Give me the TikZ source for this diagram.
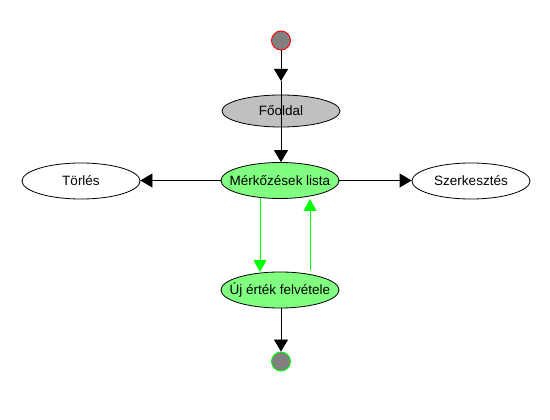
\documentclass[tikz,border=0pt]{standalone}
\usepackage{fontspec}
\setmainfont{Liberation Sans}
\usetikzlibrary{shapes.geometric,arrows.meta}
\definecolor{statefill}{HTML}{C0C0C0}
\definecolor{activefill}{HTML}{80FF80}
\definecolor{flowgreen}{HTML}{00FF00}
\definecolor{dotgray}{HTML}{808080}
\newcommand{\lbl}[1]{\makebox[0pt]{#1}}
\begin{document}
\begin{tikzpicture}[x=1pt,y=-1pt,
  font=\fontsize{13.5}{16}\selectfont,
  stateshape/.style={ellipse,draw=black,line width=0.8pt,minimum width=118pt,minimum height=36pt,inner sep=0pt},
  enddot/.style={circle,fill=dotgray,line width=0.9pt,minimum size=19pt,inner sep=0pt},
  arr/.style={draw=black,line width=0.8pt,-{Triangle[width=14pt,length=12pt]}},
  garr/.style={draw=flowgreen,line width=0.9pt,-{Triangle[width=13pt,length=12pt]}}]
  \useasboundingbox (0,0) rectangle (550,420);
  % states
  \node[enddot,draw=red] (start) at (281,40.5) {};
  \node[stateshape,fill=statefill,minimum height=32pt] (fo) at (281,111) {\lbl{Főoldal}};
  \node[stateshape,fill=activefill] (lista) at (280,180.5) {\lbl{Mérkőzések lista}};
  \node[stateshape,fill=white] (torles) at (81,181) {\lbl{Törlés}};
  \node[stateshape,fill=white] (szerk) at (471,181) {\lbl{Szerkesztés}};
  \node[stateshape,fill=activefill] (uj) at (280,290) {\lbl{Új érték felvétele}};
  \node[enddot,draw=flowgreen] (end) at (281,361.5) {};
  % transitions
  \coordinate (ftip) at (281,81);
  \draw[arr] (start) -- (ftip);
  \draw[arr] (ftip) -- (lista.north -| ftip);
  \draw[arr] (lista.west) -- (lista.west -| torles.east);
  \draw[arr] (lista.east) -- (lista.east -| szerk.west);
  \coordinate (dtop) at (260,198);
  \coordinate (dbot) at (260,272);
  \coordinate (ubot) at (310,270);
  \coordinate (utop) at (310,199);
  \draw[garr] (dtop) -- (dbot);
  \draw[garr] (ubot) -- (utop);
  \draw[arr] (uj.south -| end) -- (end.north);
\end{tikzpicture}
\end{document}
